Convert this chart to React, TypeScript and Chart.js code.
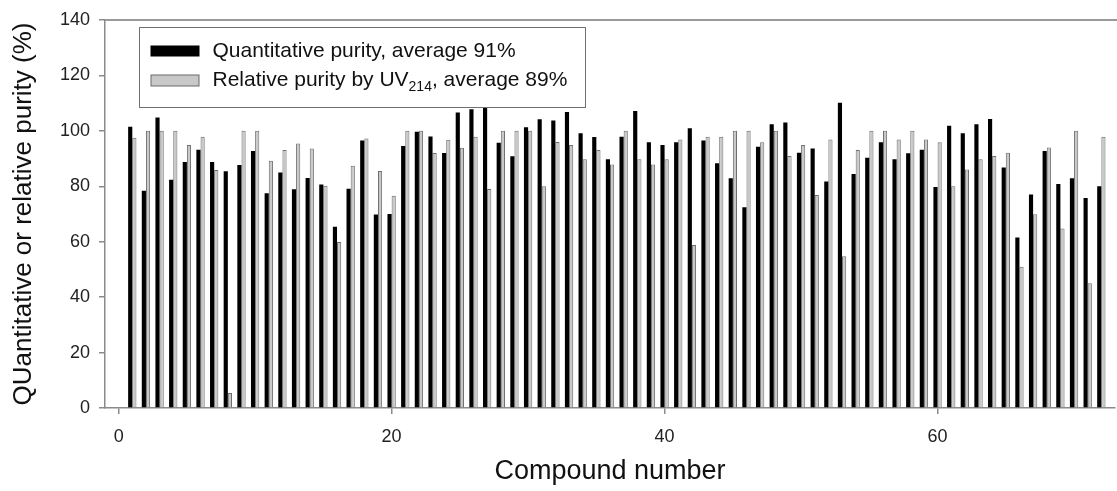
import React, { useEffect, useRef } from "react";
import { Chart, registerables } from "chart.js";

Chart.register(...registerables);

const compounds = [
  1, 2, 3, 4, 5, 6, 7, 8, 9, 10, 11, 12, 13, 14, 15, 16, 17, 18, 19, 20, 21, 22, 23, 24,
  25, 26, 27, 28, 29, 30, 31, 32, 33, 34, 35, 36, 37, 38, 39, 40, 41, 42, 43, 44, 45, 46, 47, 48,
  49, 50, 51, 52, 53, 54, 55, 56, 57, 58, 59, 60, 61, 62, 63, 64, 65, 66, 67, 68, 69, 70, 71, 72,
];

const quantitative = [
  101.5, 78.4, 104.8, 82.4, 88.8, 93.2, 88.8, 85.4, 87.7, 92.7,
  77.5, 85.0, 78.9, 83.0, 80.6, 65.4, 79.1, 96.5, 69.8, 70.0,
  94.5, 99.7, 98.0, 92.0, 106.6, 107.8, 108.7, 95.7, 90.8, 101.3,
  104.2, 103.7, 106.8, 99.1, 97.8, 89.8, 97.9, 107.2, 95.9, 94.9,
  95.9, 100.9, 96.5, 88.3, 82.9, 72.4, 94.3, 102.4, 103.0, 92.1,
  93.6, 81.7, 110.1, 84.4, 90.3, 95.9, 89.8, 91.9, 93.2, 79.7,
  101.8, 99.1, 102.4, 104.3, 86.8, 61.5, 77.0, 92.7, 80.8, 82.9, 75.8, 80.0,
];

const relative = [
  97.5, 100, 100, 100, 94.9, 97.9, 85.9, 5.4, 100, 100,
  89.2, 93.1, 95.4, 93.6, 80.2, 59.9, 87.4, 97.2, 85.5, 76.6,
  100, 100, 92.0, 96.8, 93.9, 97.9, 79.0, 100, 100, 100,
  80.0, 96.0, 94.9, 89.8, 93.1, 87.9, 100, 89.8, 87.9, 89.8,
  96.9, 58.8, 97.9, 97.9, 100, 100, 95.9, 100, 90.9, 94.9,
  76.9, 96.9, 54.8, 93.1, 100, 100, 96.9, 100, 96.9, 95.9,
  80.0, 86.1, 89.8, 90.9, 92.1, 51.0, 69.9, 94.0, 64.8, 100, 45.0, 97.9,
];

const xTickValues = [0, 20, 40, 60];

const legendLine1 = "Quantitative purity, average 91%";
const legendLine2Main = "Relative purity by UV";
const legendLine2Sub = "214";
const legendLine2Rest = ", average 89%";

const xTitle = "Compound number";
const yTitle = "QUantitative or relative purity (%)";

const FONT = "'Liberation Sans', Arial, Helvetica, sans-serif";

const framePlugin = {
  id: "frameAndLegend",
  afterDatasetsDraw(chart: any) {
    const { ctx, chartArea } = chart;
    ctx.save();
    // top frame line
    ctx.strokeStyle = "#9a9a9a";
    ctx.lineWidth = 2;
    ctx.beginPath();
    ctx.moveTo(chartArea.left, chartArea.top);
    ctx.lineTo(chart.width, chartArea.top);
    ctx.stroke();

    // legend box
    const bx = chartArea.left + 34.5;
    const by = chartArea.top + 7.5;
    const bw = 446;
    const bh = 80;
    ctx.fillStyle = "#ffffff";
    ctx.fillRect(bx, by, bw, bh);
    ctx.strokeStyle = "#707070";
    ctx.lineWidth = 1;
    ctx.strokeRect(bx, by, bw, bh);

    // swatches
    ctx.fillStyle = "#000000";
    ctx.fillRect(bx + 11, by + 18, 49, 11);
    ctx.fillStyle = "#c8c8c8";
    ctx.fillRect(bx + 11.5, by + 47.5, 48, 11);
    ctx.strokeStyle = "#6a6a6a";
    ctx.strokeRect(bx + 11.5, by + 47.5, 48, 11);

    // texts
    ctx.fillStyle = "#111111";
    ctx.textBaseline = "middle";
    ctx.textAlign = "left";
    ctx.font = `21px ${FONT}`;
    const tx = bx + 73;
    ctx.fillText(legendLine1, tx, by + 24);
    ctx.fillText(legendLine2Main, tx, by + 53);
    const w = ctx.measureText(legendLine2Main).width;
    ctx.font = `14px ${FONT}`;
    ctx.fillText(legendLine2Sub, tx + w, by + 60);
    const w2 = ctx.measureText(legendLine2Sub).width;
    ctx.font = `21px ${FONT}`;
    ctx.fillText(legendLine2Rest, tx + w + w2, by + 53);
    ctx.restore();
  },
};

export default function App() {
  const canvasRef = useRef<HTMLCanvasElement>(null);

  useEffect(() => {
    if (!canvasRef.current) return;
    const chart = new Chart(canvasRef.current, {
      type: "bar",
      data: {
        datasets: [
          {
            label: legendLine1,
            data: compounds.map((c, i) => ({ x: c, y: quantitative[i] })),
            backgroundColor: "#000000",
            borderColor: "#000000",
            borderWidth: 0,
            categoryPercentage: 0.61,
            barPercentage: 1,
          },
          {
            label: legendLine2Main + legendLine2Sub + legendLine2Rest,
            data: compounds.map((c, i) => ({ x: c, y: relative[i] })),
            backgroundColor: "#c8c8c8",
            borderColor: "#6e6e6e",
            borderWidth: 1,
            categoryPercentage: 0.61,
            barPercentage: 1,
          },
        ],
      },
      options: {
        animation: false,
        responsive: true,
        maintainAspectRatio: false,
        layout: { padding: { top: 20, right: 2, left: 0, bottom: 0 } },
        plugins: {
          legend: { display: false },
          tooltip: { enabled: false },
        },
        scales: {
          x: {
            type: "linear",
            min: -1,
            max: 73,
            offset: false,
            afterBuildTicks: (scale: any) => {
              scale.ticks = xTickValues.map((v) => ({ value: v }));
            },
            afterFit: (scale: any) => {
              scale.height = 83;
            },
            grid: {
              offset: false,
              drawOnChartArea: false,
              drawTicks: true,
              tickLength: 6,
              color: "#8a8a8a",
              lineWidth: 1.5,
            },
            border: { display: true, color: "#8a8a8a", width: 1.5 },
            ticks: {
              padding: 12,
              color: "#222222",
              font: { family: FONT, size: 18 },
              maxRotation: 0,
            },
            title: {
              display: true,
              text: xTitle,
              color: "#111111",
              font: { family: FONT, size: 27 },
              padding: { top: 0, bottom: 3 },
            },
          },
          y: {
            min: 0,
            max: 140,
            afterFit: (scale: any) => {
              scale.width = 105;
            },
            grid: {
              drawOnChartArea: false,
              drawTicks: true,
              tickLength: 6,
              color: "#8a8a8a",
              lineWidth: 1.5,
            },
            border: { display: true, color: "#8a8a8a", width: 1.5 },
            ticks: {
              stepSize: 20,
              padding: 9,
              color: "#222222",
              font: { family: FONT, size: 18 },
            },
            title: {
              display: true,
              text: yTitle,
              color: "#111111",
              font: { family: FONT, size: 26 },
              padding: { top: 8, bottom: 0 },
            },
          },
        },
      },
      plugins: [framePlugin],
    });
    return () => chart.destroy();
  }, []);

  return (
    <div
      style={{
        position: "fixed",
        left: 0,
        top: 0,
        width: 1117,
        height: 491,
        background: "#ffffff",
      }}
    >
      <canvas ref={canvasRef} />
    </div>
  );
}
